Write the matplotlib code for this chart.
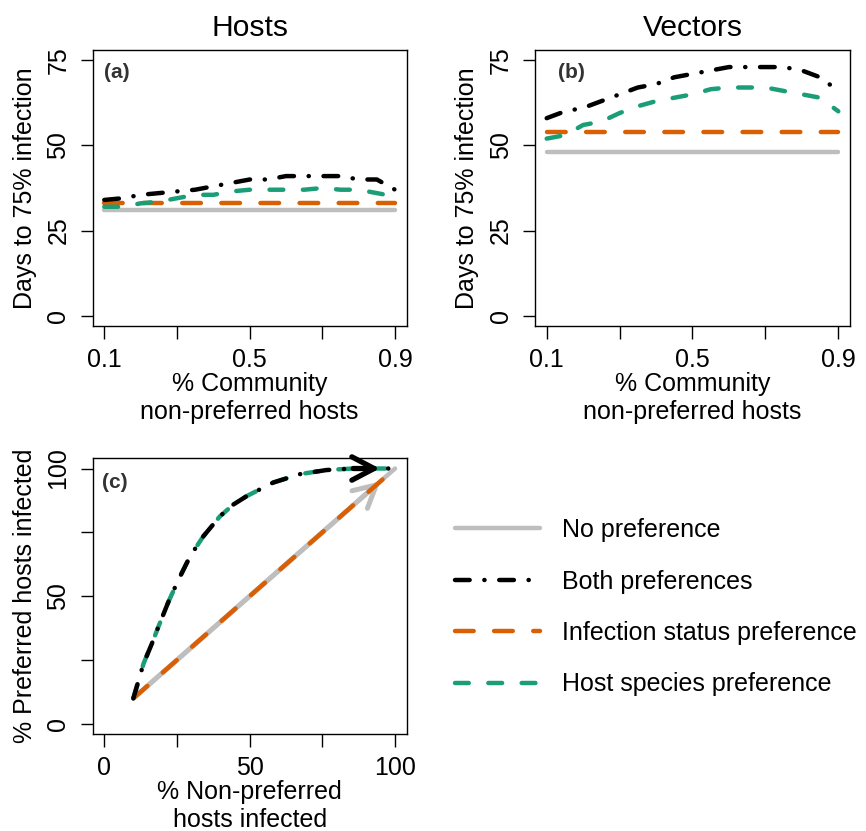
import matplotlib
matplotlib.use('Agg')
import matplotlib.pyplot as plt

plt.rcParams['font.family'] = ['Liberation Sans', 'DejaVu Sans']
plt.rcParams['font.size'] = 18
plt.rcParams['lines.dash_capstyle'] = 'round'
plt.rcParams['lines.solid_capstyle'] = 'round'

# % community of non-preferred hosts
frac_nonpref = [0.10, 0.15, 0.20, 0.25, 0.30, 0.35, 0.40, 0.45, 0.50,
                0.55, 0.60, 0.65, 0.70, 0.75, 0.80, 0.85, 0.90]

# (a) Hosts: days to 75% infection
hosts_none = [31] * 17
hosts_both = [34, 34.5, 35.5, 36, 36.5, 37, 38, 39, 40, 40, 41, 41, 41, 41, 40, 40, 37]
hosts_infstatus = [33] * 17
hosts_species = [32, 32, 33, 33.5, 34.5, 35.5, 35.5, 36.5, 37, 37, 37, 37, 37.5, 37, 37, 36, 35]

# (b) Vectors: days to 75% infection
vec_none = [48] * 17
vec_both = [58, 60, 61, 63, 65, 67, 68, 70, 71, 72, 73, 73, 73, 73, 72, 70, 66]
vec_infstatus = [54] * 17
vec_species = [52, 53, 56, 57, 59.5, 61.5, 63, 64, 65, 66.5, 67, 67, 67, 66, 65, 64, 60]

# (c) % preferred vs % non-preferred hosts infected
lin_x = [10, 100]
lin_y = [10, 100]
curve_x = [10, 13.5, 16.4, 18.6, 22.1, 25.5, 29.5, 34.1, 39.8, 44.4, 49.0, 58.1, 67.3, 76.4, 85.6, 100]
curve_y = [10, 23.6, 31.5, 38.0, 47.9, 56.4, 65.6, 73.5, 81.3, 85.9, 89.2, 94.5, 97.8, 99.4, 100, 100]

labels = ['No preference', 'Both preferences', 'Infection status preference', 'Host species preference']

gray = '#BEBEBE'
orange = '#D95F02'
green = '#1B9E77'
lw = 3.2
dash_both = (3.3, 3.3, 0.05, 3.3)
dash_inf = (4.2, 4.6)
dash_spec = (3.1, 4.4)
head = '->,head_length=0.8,head_width=0.42'

fig = plt.figure(figsize=(8.66, 8.31), dpi=100)
ax_a = fig.add_axes([0.107, 0.6077, 0.3626, 0.3321])
ax_b = fig.add_axes([0.6178, 0.6077, 0.3637, 0.3321])
ax_c = fig.add_axes([0.107, 0.1167, 0.3626, 0.3318])


def style_axis(ax):
    ax.tick_params(direction='out', length=9, width=1, top=False, right=False)
    ax.tick_params(axis='x', pad=7)
    ax.tick_params(axis='y', pad=7)
    for s in ax.spines.values():
        s.set_linewidth(1.0)
    for t in ax.get_yticklabels():
        t.set_rotation(90)
        t.set_va('center')


def days_panel(ax, none, both, inf, spec, title, tag, tagx):
    ax.plot(frac_nonpref, none, color=gray, lw=lw)
    ax.plot(frac_nonpref, inf, color=orange, lw=lw, dashes=dash_inf)
    ax.plot(frac_nonpref, spec, color=green, lw=lw, dashes=dash_spec)
    ax.plot(frac_nonpref, both, color='black', lw=lw, dashes=dash_both)
    ax.set_xlim(0.068, 0.932)
    ax.set_ylim(-3, 78)
    ax.set_xticks([0.1, 0.3, 0.5, 0.7, 0.9])
    ax.set_xticklabels(['0.1', '', '0.5', '', '0.9'])
    ax.set_yticks([0, 25, 50, 75])
    ax.set_yticklabels(['0', '25', '50', '75'])
    ax.set_title(title, pad=10)
    ax.set_xlabel('% Community\nnon-preferred hosts', labelpad=0)
    ax.set_ylabel('Days to 75% infection', labelpad=7)
    ax.text(tagx, 0.917, tag, transform=ax.transAxes, fontsize=15,
            fontweight='bold', color='#333333', va='center')
    style_axis(ax)


days_panel(ax_a, hosts_none, hosts_both, hosts_infstatus, hosts_species, 'Hosts', '(a)', 0.036)
days_panel(ax_b, vec_none, vec_both, vec_infstatus, vec_species, 'Vectors', '(b)', 0.073)

# panel c
l1, = ax_c.plot(lin_x, lin_y, color=gray, lw=lw, zorder=1.4)
ax_c.annotate('', xy=(lin_x[-1], lin_y[-1]), xytext=(lin_x[-2], lin_y[-2]),
              arrowprops=dict(arrowstyle=head, color=gray, lw=3.6, shrinkA=0, shrinkB=14,
                              mutation_scale=20, capstyle='round', joinstyle='round'),
              zorder=1.5)
l3, = ax_c.plot(lin_x, lin_y, color=orange, lw=lw, dashes=dash_inf)
l4, = ax_c.plot(curve_x, curve_y, color=green, lw=lw, dashes=dash_spec)
l2, = ax_c.plot(curve_x, curve_y, color='black', lw=lw, dashes=dash_both)
ax_c.annotate('', xy=(curve_x[-1], curve_y[-1]), xytext=(curve_x[-2], curve_y[-2]),
              arrowprops=dict(arrowstyle=head, color='black', lw=3.8, shrinkA=0, shrinkB=11,
                              mutation_scale=20, capstyle='round', joinstyle='round'))
ax_c.set_xlim(-4, 104)
ax_c.set_ylim(-4, 104)
ax_c.set_xticks([0, 25, 50, 75, 100])
ax_c.set_xticklabels(['0', '', '50', '', '100'])
ax_c.set_yticks([0, 25, 50, 75, 100])
ax_c.set_yticklabels(['0', '', '50', '', '100'])
ax_c.set_xlabel('% Non-preferred\nhosts infected', labelpad=0)
ax_c.set_ylabel('% Preferred hosts infected', labelpad=7)
ax_c.text(0.029, 0.912, '(c)', transform=ax_c.transAxes, fontsize=15,
          fontweight='bold', color='#333333', va='center')
style_axis(ax_c)

fig.legend([l1, l2, l3, l4], labels, loc='upper left',
           bbox_to_anchor=(455 / 866, 1 - 518 / 831), frameon=False,
           borderaxespad=0, borderpad=0, handlelength=3.4, handletextpad=0.87,
           labelspacing=1.1, fontsize=18)

fig.savefig('out.png', dpi=100)
